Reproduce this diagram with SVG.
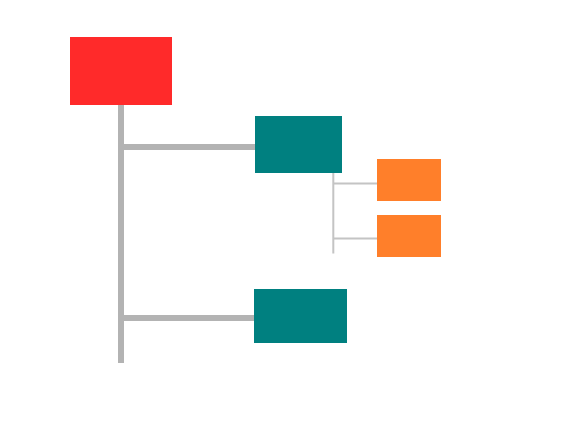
<svg xmlns="http://www.w3.org/2000/svg" width="568" height="446" viewBox="0 0 568 446">
<style>
.thick{stroke:#b3b3b3;stroke-width:6;fill:none}
.thin{stroke:#c4c4c4;stroke-width:2;fill:none}
.root{fill:#ff2a2a}
.mid{fill:#008080}
.leaf{fill:#ff7f2a}
</style>
<rect width="568" height="446" fill="#ffffff"/>
<g id="connectors">
<path class="thick" d="M121,105 V363 M121,147 H255 M121,318 H254"/>
<path class="thin" d="M333.3,173 V253.5 M333.3,183.5 H377 M333.3,238.5 H377"/>
</g>
<g id="node-root"><rect class="root" x="70" y="37" width="102" height="68"/></g>
<g id="node-a"><rect class="mid" x="255" y="116" width="87" height="57"/></g>
<g id="node-a1"><rect class="leaf" x="377" y="159" width="64" height="42"/></g>
<g id="node-a2"><rect class="leaf" x="377" y="215" width="64" height="42"/></g>
<g id="node-b"><rect class="mid" x="254" y="289" width="93" height="54"/></g>
</svg>
